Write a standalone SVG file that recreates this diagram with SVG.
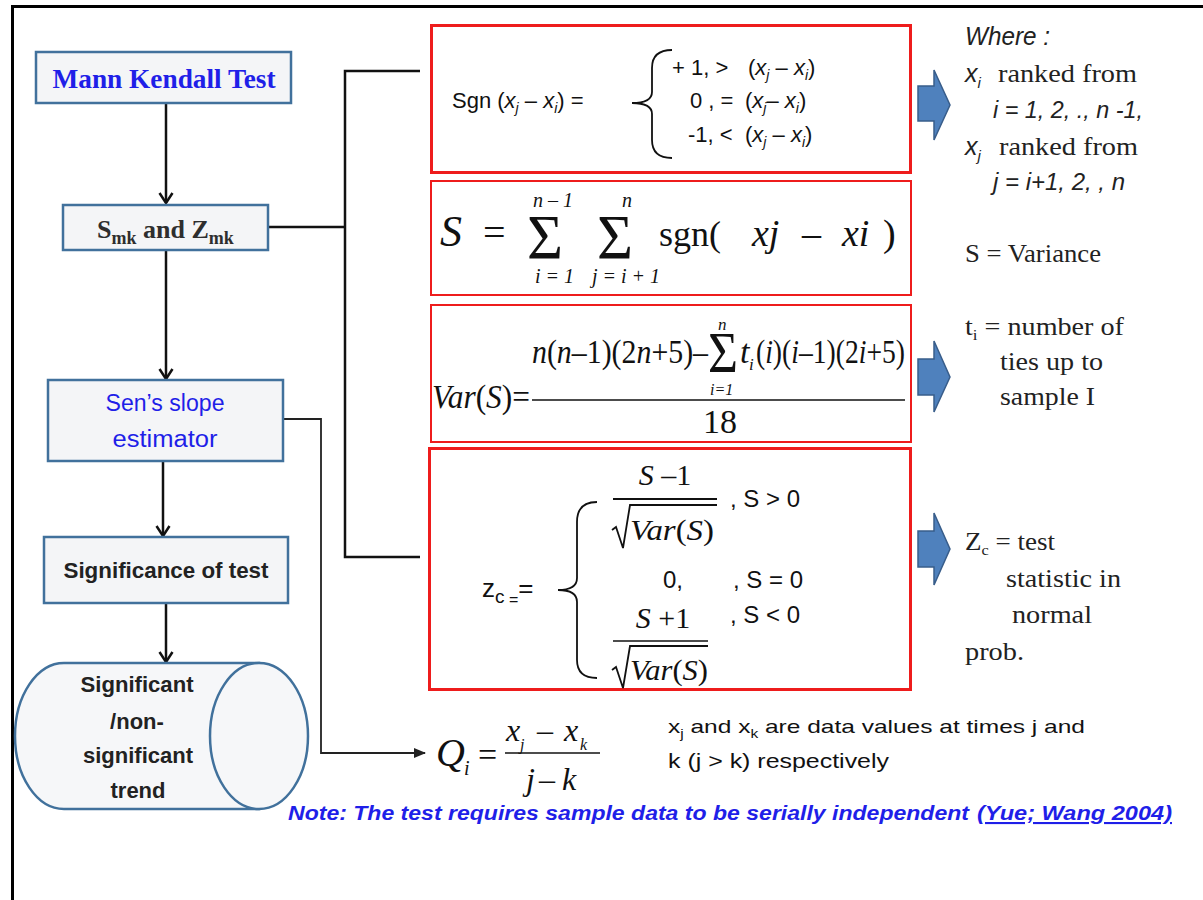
<svg xmlns="http://www.w3.org/2000/svg" width="1203" height="900" viewBox="0 0 1203 900">
<style>
.box{fill:#f4f5f7;stroke:#41719c;stroke-width:2.5}
.red{fill:none;stroke:#ee1c1c}
.cal{font-family:"Liberation Sans",Arial,sans-serif}
.cam{font-family:"Liberation Serif","Times New Roman",serif}
.tm{font-family:"Liberation Serif","Times New Roman",serif;fill:#111}
.it{font-style:italic}
.blue{fill:#1f1fe8}
.dark{fill:#2e2e2e}
.conn{fill:none;stroke:#111;stroke-width:2.5}
.barrow{fill:#4f81bd;stroke:#385d8a;stroke-width:1.5}
.mline{stroke:#111;stroke-width:1.8;fill:none}
</style>
<defs>
<marker id="vhead" markerWidth="14" markerHeight="16" refX="12" refY="8" orient="auto" markerUnits="userSpaceOnUse" viewBox="0 0 14 16">
<path d="M2 1.5 L12 8 L2 14.5" fill="none" stroke="#111" stroke-width="2.5"/>
</marker>
<marker id="thead" markerWidth="12" markerHeight="10" refX="11" refY="5" orient="auto" markerUnits="userSpaceOnUse" viewBox="0 0 12 10">
<path d="M0 0 L12 5 L0 10 Z" fill="#222"/>
</marker>
</defs>
<rect x="0" y="0" width="1203" height="900" fill="#ffffff"/>
<path d="M12.5 900 L12.5 6.5 L1203 6.5" fill="none" stroke="#000" stroke-width="3"/>

<g id="connectors">
<line class="conn" x1="166" y1="103" x2="166" y2="203" marker-end="url(#vhead)"/>
<line class="conn" x1="166" y1="250" x2="166" y2="379" marker-end="url(#vhead)"/>
<line class="conn" x1="163" y1="461" x2="163" y2="536" marker-end="url(#vhead)"/>
<line class="conn" x1="166" y1="603" x2="166" y2="662" marker-end="url(#vhead)"/>
<path class="conn" d="M268 227 L345 227"/>
<path class="conn" d="M420 71 L345 71 L345 557 L420 557"/>
<path d="M283 419 L321 419 L321 753 L425 753" fill="none" stroke="#222" stroke-width="1.8" marker-end="url(#thead)"/>
</g>

<g id="mann-kendall">
<rect class="box" x="36" y="52" width="255" height="51"/>
<text class="cam blue" x="164" y="88" font-size="27" font-weight="bold" text-anchor="middle" textLength="223" lengthAdjust="spacingAndGlyphs">Mann Kendall Test</text>
</g>

<g id="smk-zmk">
<rect class="box" x="63" y="205" width="205" height="45"/>
<text class="cam dark" x="97" y="238" font-size="26" font-weight="bold">S<tspan font-size="18" dy="6">mk</tspan><tspan dy="-6"> and Z</tspan><tspan font-size="18" dy="6">mk</tspan></text>
</g>

<g id="sens-slope">
<rect class="box" x="48" y="380" width="235" height="81"/>
<text class="cal blue" x="165" y="411" font-size="23" text-anchor="middle" textLength="119" lengthAdjust="spacingAndGlyphs">Sen’s slope</text>
<text class="cal blue" x="165" y="447" font-size="23" text-anchor="middle" textLength="105" lengthAdjust="spacingAndGlyphs">estimator</text>
</g>

<g id="significance">
<rect class="box" x="44" y="537" width="244" height="66"/>
<text class="cal" x="166" y="578" font-size="22" font-weight="bold" fill="#222" text-anchor="middle" textLength="205" lengthAdjust="spacingAndGlyphs">Significance of test</text>
</g>

<g id="trend">
<path d="M64 663 L259 663 L259 809 L64 809 A49 73 0 0 1 64 663 Z" fill="#f6f7f9" stroke="#41719c" stroke-width="2.5"/>
<ellipse cx="259" cy="736" rx="49" ry="73" fill="#f6f7f9" stroke="#41719c" stroke-width="2.5"/>
<g class="cal" font-size="22" font-weight="bold" fill="#222" text-anchor="middle">
<text x="137" y="692" textLength="113" lengthAdjust="spacingAndGlyphs">Significant</text>
<text x="137" y="729">/non-</text>
<text x="138" y="763" textLength="110" lengthAdjust="spacingAndGlyphs">significant</text>
<text x="138" y="798">trend</text>
</g>
</g>

<g id="sgn-box">
<rect class="red" x="431.5" y="25.5" width="479" height="147" stroke-width="3"/>
<text class="cal" x="452" y="108" font-size="22" fill="#111">Sgn (<tspan font-style="italic">x</tspan><tspan font-size="14" font-style="italic" dy="5">j</tspan><tspan dy="-5"> – </tspan><tspan font-style="italic">x</tspan><tspan font-size="14" font-style="italic" dy="5">i</tspan><tspan dy="-5">) =</tspan></text>
<path class="mline" d="M672 50 Q652 50 652 68 L652 92 Q652 103 632 103 Q652 103 652 114 L652 140 Q652 158 672 158"/>
<g class="cal" font-size="22" fill="#111">
<text x="672" y="75">+ 1, &gt;</text>
<text x="748" y="75">(<tspan font-style="italic">x</tspan><tspan font-size="14" font-style="italic" dy="5">j</tspan><tspan dy="-5"> – </tspan><tspan font-style="italic">x</tspan><tspan font-size="14" font-style="italic" dy="5">i</tspan><tspan dy="-5">)</tspan></text>
<text x="690" y="108">0 , =</text>
<text x="745" y="108">(<tspan font-style="italic">x</tspan><tspan font-size="14" font-style="italic" dy="5">j</tspan><tspan dy="-5">– </tspan><tspan font-style="italic">x</tspan><tspan font-size="14" font-style="italic" dy="5">i</tspan><tspan dy="-5">)</tspan></text>
<text x="688" y="142">-1, &lt;</text>
<text x="745" y="142">(<tspan font-style="italic">x</tspan><tspan font-size="14" font-style="italic" dy="5">j</tspan><tspan dy="-5"> – </tspan><tspan font-style="italic">x</tspan><tspan font-size="14" font-style="italic" dy="5">i</tspan><tspan dy="-5">)</tspan></text>
</g>
</g>

<g id="s-box">
<rect class="red" x="431" y="181" width="480" height="114" stroke-width="2"/>
<text class="tm it" x="440" y="246" font-size="44">S</text>
<text class="tm" x="483" y="246" font-size="40">=</text>
<text class="tm" x="527" y="259" font-size="64" textLength="36" lengthAdjust="spacingAndGlyphs">Σ</text>
<text class="tm it" x="533" y="207" font-size="20">n – 1</text>
<text class="tm it" x="535" y="283" font-size="20">i = 1</text>
<text class="tm" x="597" y="259" font-size="64" textLength="36" lengthAdjust="spacingAndGlyphs">Σ</text>
<text class="tm it" x="622" y="207" font-size="20">n</text>
<text class="tm it" x="592" y="283" font-size="20">j = i + 1</text>
<text class="tm" x="659" y="246" font-size="36">sgn(</text>
<text class="tm it" x="752" y="246" font-size="38">xj</text>
<text class="tm" x="802" y="246" font-size="38">–</text>
<text class="tm it" x="842" y="246" font-size="38">xi</text>
<text class="tm" x="883" y="246" font-size="38">)</text>
</g>

<g id="var-box">
<rect class="red" x="431" y="305" width="480" height="137" stroke-width="2"/>
<text class="tm" x="432" y="408" font-size="34" textLength="98" lengthAdjust="spacingAndGlyphs"><tspan font-style="italic">Var</tspan>(<tspan font-style="italic">S</tspan>)=</text>
<text class="tm" x="532" y="363" font-size="34" textLength="176" lengthAdjust="spacingAndGlyphs"><tspan font-style="italic">n</tspan>(<tspan font-style="italic">n</tspan>–1)(2<tspan font-style="italic">n</tspan>+5)–</text>
<text class="tm" x="708" y="372" font-size="56" textLength="30" lengthAdjust="spacingAndGlyphs">Σ</text>
<text class="tm it" x="718" y="330" font-size="17">n</text>
<text class="tm it" x="710" y="395" font-size="16">i=1</text>
<text class="tm it" x="740" y="363" font-size="34">t</text>
<text class="tm it" x="749" y="370" font-size="17">i</text>
<text class="tm" x="756" y="363" font-size="34" textLength="149" lengthAdjust="spacingAndGlyphs">(<tspan font-style="italic">i</tspan>)(<tspan font-style="italic">i</tspan>–1)(2<tspan font-style="italic">i</tspan>+5)</text>
<line x1="532" y1="400" x2="905" y2="400" stroke="#111" stroke-width="1.5"/>
<text class="tm" x="703" y="433" font-size="34">18</text>
</g>

<g id="zc-box">
<rect class="red" x="429.5" y="448.5" width="481" height="241" stroke-width="3"/>
<text class="cal" x="482" y="597" font-size="26" fill="#111">z<tspan font-size="19" dy="6">c</tspan><tspan font-size="16" dy="2"> =</tspan><tspan dy="-8">=</tspan></text>
<path class="mline" d="M597 502 Q577 502 577 522 L577 578 Q577 590 558 590 Q577 590 577 602 L577 660 Q577 678 597 678"/>
<text class="tm" x="665" y="485" font-size="30" text-anchor="middle"><tspan font-style="italic">S</tspan> –1</text>
<line x1="613" y1="499" x2="717" y2="499" stroke="#111" stroke-width="2"/>
<path class="mline" d="M612 530 L616 527 L623 548 L630 505 L717 505" stroke-width="1.5"/>
<text class="tm" x="630" y="540" font-size="30" textLength="84" lengthAdjust="spacingAndGlyphs"><tspan font-style="italic">Var</tspan>(<tspan font-style="italic">S</tspan>)</text>
<text class="cal" x="730" y="507" font-size="24" fill="#111">, S &gt; 0</text>
<text class="cal" x="663" y="588" font-size="24" fill="#111">0,</text>
<text class="cal" x="733" y="588" font-size="24" fill="#111">, S = 0</text>
<text class="tm" x="663" y="628" font-size="30" text-anchor="middle"><tspan font-style="italic">S</tspan> +1</text>
<line x1="613" y1="641" x2="708" y2="641" stroke="#111" stroke-width="1.5"/>
<path class="mline" d="M612 670 L616 667 L623 688 L630 646 L708 646" stroke-width="1.5"/>
<text class="tm" x="630" y="680" font-size="30" textLength="78" lengthAdjust="spacingAndGlyphs"><tspan font-style="italic">Var</tspan>(<tspan font-style="italic">S</tspan>)</text>
<text class="cal" x="730" y="623" font-size="24" fill="#111">, S &lt; 0</text>
</g>

<g id="block-arrows">
<path class="barrow" d="M918 86 L934 86 L934 70 L950 105 L934 140 L934 121 L918 121 Z"/>
<path class="barrow" d="M918 359 L934 359 L934 341 L950 377 L934 412 L934 395 L918 395 Z"/>
<path class="barrow" d="M918 531 L934 531 L934 513 L950 549 L934 585 L934 567 L918 567 Z"/>
</g>

<g id="notes" font-size="25" fill="#222">
<text class="cal it" x="965" y="45" font-size="25" textLength="85" lengthAdjust="spacingAndGlyphs">Where :</text>
<text class="cam" x="965" y="82"><tspan font-family="Liberation Sans,sans-serif" font-style="italic">x</tspan><tspan font-size="15" font-family="Liberation Sans,sans-serif" font-style="italic" dy="6">i</tspan><tspan x="998" dy="-6" textLength="139" lengthAdjust="spacingAndGlyphs">ranked from</tspan></text>
<text class="cal it" x="993" y="118" font-size="24" textLength="150" lengthAdjust="spacingAndGlyphs">i = 1, 2, ., n -1,</text>
<text class="cam" x="965" y="155"><tspan font-family="Liberation Sans,sans-serif" font-style="italic">x</tspan><tspan font-size="15" font-family="Liberation Sans,sans-serif" font-style="italic" dy="6">j</tspan><tspan x="999" dy="-6" textLength="139" lengthAdjust="spacingAndGlyphs">ranked from</tspan></text>
<text class="cal it" x="993" y="190" font-size="24" textLength="132" lengthAdjust="spacingAndGlyphs">j = i+1, 2, , n</text>
<text class="cam" x="965" y="262" textLength="136" lengthAdjust="spacingAndGlyphs">S = Variance</text>
<text class="cam" x="965" y="335" textLength="159" lengthAdjust="spacingAndGlyphs">t<tspan font-size="15" dy="5">i</tspan><tspan dy="-5"> = number of</tspan></text>
<text class="cam" x="1000" y="370" textLength="103" lengthAdjust="spacingAndGlyphs">ties up to</text>
<text class="cam" x="1000" y="405" textLength="95" lengthAdjust="spacingAndGlyphs">sample I</text>
<text class="cam" x="965" y="550" textLength="90" lengthAdjust="spacingAndGlyphs">Z<tspan font-size="15" dy="5">c</tspan><tspan dy="-5"> = test</tspan></text>
<text class="cam" x="1006" y="587" textLength="115" lengthAdjust="spacingAndGlyphs">statistic in</text>
<text class="cam" x="1012" y="623" textLength="80" lengthAdjust="spacingAndGlyphs">normal</text>
<text class="cam" x="965" y="660" textLength="59" lengthAdjust="spacingAndGlyphs">prob.</text>
</g>

<g id="sen-formula">
<text class="tm it" x="436" y="766" font-size="40">Q</text>
<text class="tm it" x="464" y="775" font-size="20">i</text>
<text class="tm" x="478" y="766" font-size="34">=</text>
<text class="tm it" x="506" y="741" font-size="32">x</text>
<text class="tm it" x="520" y="750" font-size="16">j</text>
<text class="tm" x="537" y="741" font-size="32">–</text>
<text class="tm it" x="564" y="741" font-size="32">x</text>
<text class="tm it" x="580" y="750" font-size="16">k</text>
<line x1="505" y1="753" x2="600" y2="753" stroke="#111" stroke-width="1.5"/>
<text class="tm it" x="526" y="790" font-size="32">j</text>
<text class="tm" x="539" y="790" font-size="32">–</text>
<text class="tm it" x="562" y="790" font-size="32">k</text>
<text class="cal" x="668" y="733" font-size="19" fill="#111" textLength="417" lengthAdjust="spacingAndGlyphs">x<tspan font-size="12" dy="5">j</tspan><tspan dy="-5"> and x</tspan><tspan font-size="12" dy="5">k</tspan><tspan dy="-5"> are data values at times j and</tspan></text>
<text class="cal" x="668" y="768" font-size="21" fill="#111" textLength="221" lengthAdjust="spacingAndGlyphs">k (j &gt; k) respectively</text>
</g>

<g id="note">
<text class="cal blue" x="288" y="820" font-size="21" font-weight="bold" font-style="italic" textLength="681" lengthAdjust="spacingAndGlyphs">Note: The test requires sample data to be serially independent</text>
<text class="cal blue" x="977" y="820" font-size="21" font-weight="bold" font-style="italic" text-decoration="underline" textLength="195" lengthAdjust="spacingAndGlyphs">(Yue; Wang 2004)</text>
</g>
</svg>
